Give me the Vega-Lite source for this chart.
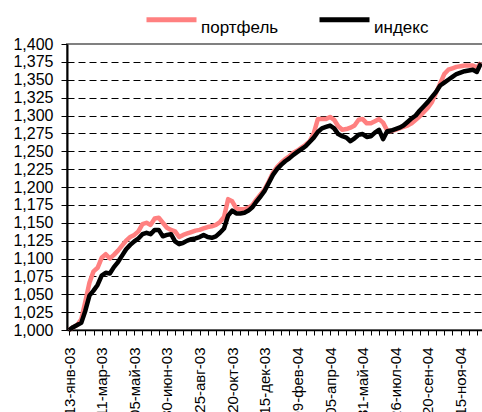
{
  "$schema": "https://vega.github.io/schema/vega-lite/v6.json",
  "width": 416,
  "height": 286,
  "autosize": "none",
  "padding": {"left": 67, "top": 44, "right": 0, "bottom": 82},
  "config": {"font": "Liberation Sans", "view": {"stroke": "#808080", "strokeWidth": 2}},
  "data": {"values": [
    {"d": "13-янв-03", "p": 1000, "i": 1000},
    {"d": "20-янв-03", "p": 1004, "i": 1004},
    {"d": "27-янв-03", "p": 1007, "i": 1007},
    {"d": "03-фев-03", "p": 1015, "i": 1010},
    {"d": "10-фев-03", "p": 1040, "i": 1027},
    {"d": "17-фев-03", "p": 1066, "i": 1048},
    {"d": "24-фев-03", "p": 1082, "i": 1055},
    {"d": "03-мар-03", "p": 1087, "i": 1063},
    {"d": "11-мар-03", "p": 1101, "i": 1076},
    {"d": "17-мар-03", "p": 1106, "i": 1080},
    {"d": "24-мар-03", "p": 1100, "i": 1079},
    {"d": "31-мар-03", "p": 1105, "i": 1088},
    {"d": "07-апр-03", "p": 1111, "i": 1095},
    {"d": "14-апр-03", "p": 1118, "i": 1104},
    {"d": "21-апр-03", "p": 1125, "i": 1113},
    {"d": "28-апр-03", "p": 1130, "i": 1119},
    {"d": "05-май-03", "p": 1133, "i": 1124},
    {"d": "12-май-03", "p": 1138, "i": 1128},
    {"d": "19-май-03", "p": 1148, "i": 1134},
    {"d": "26-май-03", "p": 1150, "i": 1136},
    {"d": "02-июн-03", "p": 1147, "i": 1134},
    {"d": "09-июн-03", "p": 1156, "i": 1140},
    {"d": "16-июн-03", "p": 1157, "i": 1140},
    {"d": "23-июн-03", "p": 1150, "i": 1131},
    {"d": "30-июн-03", "p": 1143, "i": 1133},
    {"d": "07-июл-03", "p": 1140, "i": 1134},
    {"d": "14-июл-03", "p": 1138, "i": 1124},
    {"d": "21-июл-03", "p": 1130, "i": 1120},
    {"d": "28-июл-03", "p": 1133, "i": 1122},
    {"d": "04-авг-03", "p": 1135, "i": 1125},
    {"d": "11-авг-03", "p": 1137, "i": 1127},
    {"d": "18-авг-03", "p": 1139, "i": 1128},
    {"d": "25-авг-03", "p": 1140, "i": 1130},
    {"d": "01-сен-03", "p": 1142, "i": 1133},
    {"d": "08-сен-03", "p": 1144, "i": 1130},
    {"d": "15-сен-03", "p": 1145, "i": 1129},
    {"d": "22-сен-03", "p": 1147, "i": 1131},
    {"d": "29-сен-03", "p": 1151, "i": 1136},
    {"d": "06-окт-03", "p": 1158, "i": 1142},
    {"d": "13-окт-03", "p": 1183, "i": 1160},
    {"d": "20-окт-03", "p": 1180, "i": 1167},
    {"d": "27-окт-03", "p": 1170, "i": 1163},
    {"d": "03-ноя-03", "p": 1169, "i": 1163},
    {"d": "10-ноя-03", "p": 1169, "i": 1164},
    {"d": "17-ноя-03", "p": 1171, "i": 1167},
    {"d": "24-ноя-03", "p": 1175, "i": 1172},
    {"d": "01-дек-03", "p": 1183, "i": 1180},
    {"d": "08-дек-03", "p": 1190, "i": 1187},
    {"d": "15-дек-03", "p": 1197, "i": 1195},
    {"d": "22-дек-03", "p": 1208, "i": 1206},
    {"d": "29-дек-03", "p": 1220, "i": 1217},
    {"d": "05-янв-04", "p": 1228, "i": 1225},
    {"d": "12-янв-04", "p": 1234, "i": 1231},
    {"d": "19-янв-04", "p": 1239, "i": 1236},
    {"d": "26-янв-04", "p": 1243, "i": 1240},
    {"d": "02-фев-04", "p": 1248, "i": 1245},
    {"d": "09-фев-04", "p": 1251, "i": 1249},
    {"d": "16-фев-04", "p": 1255, "i": 1253},
    {"d": "24-фев-04", "p": 1259, "i": 1257},
    {"d": "01-мар-04", "p": 1264, "i": 1263},
    {"d": "09-мар-04", "p": 1275, "i": 1269},
    {"d": "15-мар-04", "p": 1295, "i": 1277},
    {"d": "22-мар-04", "p": 1295, "i": 1282},
    {"d": "29-мар-04", "p": 1295, "i": 1284},
    {"d": "05-апр-04", "p": 1298, "i": 1286},
    {"d": "12-апр-04", "p": 1294, "i": 1282},
    {"d": "19-апр-04", "p": 1285, "i": 1274},
    {"d": "26-апр-04", "p": 1280, "i": 1271},
    {"d": "04-май-04", "p": 1281, "i": 1269},
    {"d": "11-май-04", "p": 1283, "i": 1264},
    {"d": "17-май-04", "p": 1286, "i": 1268},
    {"d": "24-май-04", "p": 1294, "i": 1273},
    {"d": "31-май-04", "p": 1295, "i": 1274},
    {"d": "07-июн-04", "p": 1289, "i": 1270},
    {"d": "15-июн-04", "p": 1289, "i": 1271},
    {"d": "21-июн-04", "p": 1292, "i": 1276},
    {"d": "28-июн-04", "p": 1295, "i": 1280},
    {"d": "05-июл-04", "p": 1290, "i": 1267},
    {"d": "12-июл-04", "p": 1279, "i": 1278},
    {"d": "19-июл-04", "p": 1278, "i": 1279},
    {"d": "26-июл-04", "p": 1280, "i": 1281},
    {"d": "02-авг-04", "p": 1282, "i": 1283},
    {"d": "09-авг-04", "p": 1284, "i": 1286},
    {"d": "16-авг-04", "p": 1286, "i": 1291},
    {"d": "23-авг-04", "p": 1289, "i": 1296},
    {"d": "30-авг-04", "p": 1294, "i": 1300},
    {"d": "06-сен-04", "p": 1299, "i": 1307},
    {"d": "13-сен-04", "p": 1305, "i": 1313},
    {"d": "20-сен-04", "p": 1311, "i": 1319},
    {"d": "27-сен-04", "p": 1319, "i": 1326},
    {"d": "04-окт-04", "p": 1332, "i": 1333},
    {"d": "11-окт-04", "p": 1345, "i": 1342},
    {"d": "18-окт-04", "p": 1358, "i": 1346},
    {"d": "25-окт-04", "p": 1364, "i": 1350},
    {"d": "01-ноя-04", "p": 1366, "i": 1354},
    {"d": "09-ноя-04", "p": 1368, "i": 1358},
    {"d": "15-ноя-04", "p": 1369, "i": 1360},
    {"d": "22-ноя-04", "p": 1370, "i": 1362},
    {"d": "29-ноя-04", "p": 1370, "i": 1363},
    {"d": "06-дек-04", "p": 1370, "i": 1364},
    {"d": "13-дек-04", "p": 1367, "i": 1361},
    {"d": "20-дек-04", "p": 1374, "i": 1373}
  ]},
  "transform": [{"fold": ["p", "i"], "as": ["key", "value"]}],
  "encoding": {
    "x": {
      "field": "d", "type": "ordinal", "sort": null,
      "scale": {"type": "point", "padding": 0.5},
      "axis": {
        "title": null,
        "values": ["13-янв-03","27-янв-03","10-фев-03","24-фев-03","11-мар-03","24-мар-03","07-апр-03","21-апр-03","05-май-03","19-май-03","02-июн-03","16-июн-03","30-июн-03","14-июл-03","28-июл-03","11-авг-03","25-авг-03","08-сен-03","22-сен-03","06-окт-03","20-окт-03","03-ноя-03","17-ноя-03","01-дек-03","15-дек-03","29-дек-03","12-янв-04","26-янв-04","09-фев-04","24-фев-04","09-мар-04","22-мар-04","05-апр-04","19-апр-04","04-май-04","17-май-04","31-май-04","15-июн-04","28-июн-04","12-июл-04","26-июл-04","09-авг-04","23-авг-04","06-сен-04","20-сен-04","04-окт-04","18-окт-04","01-ноя-04","15-ноя-04","29-ноя-04","13-дек-04"],
        "labelExpr": "indexof(['13-янв-03','11-мар-03','05-май-03','30-июн-03','25-авг-03','20-окт-03','15-дек-03','09-фев-04','05-апр-04','31-май-04','26-июл-04','20-сен-04','15-ноя-04'], datum.value) >= 0 ? datum.value : ''",
        "labelAngle": 270,
        "labelFontSize": 15,
        "labelColor": "#000000",
        "labelPadding": 12,
        "labelOverlap": false,
        "domainColor": "#000000",
        "domainWidth": 1.5,
        "tickColor": "#000000",
        "tickSize": 5,
        "grid": false
      }
    },
    "y": {
      "field": "value", "type": "quantitative",
      "scale": {"domain": [1000, 1400], "nice": false, "zero": false},
      "axis": {
        "title": null,
        "values": [1000,1025,1050,1075,1100,1125,1150,1175,1200,1225,1250,1275,1300,1325,1350,1375,1400],
        "format": ",d",
        "labelOverlap": false,
        "grid": true,
        "gridColor": "#000000",
        "gridDash": [7, 4],
        "gridWidth": 1,
        "gridOpacity": {"condition": {"test": "datum.value >= 1400 || datum.value <= 1000", "value": 0}, "value": 1},
        "domainColor": "#000000",
        "domainWidth": 2,
        "tickColor": "#000000",
        "tickSize": 6,
        "labelFontSize": 16,
        "labelColor": "#000000",
        "labelPadding": 8
      }
    },
    "color": {
      "field": "key", "type": "nominal",
      "scale": {"domain": ["p", "i"], "range": ["#FF8080", "#000000"]},
      "legend": {
        "orient": "none", "legendX": 77, "legendY": -52,
        "direction": "horizontal", "title": null,
        "labelExpr": "datum.value == 'p' ? 'портфель' : 'индекс'",
        "symbolType": "stroke", "symbolSize": 2500, "symbolStrokeWidth": 5,
        "labelFontSize": 17, "labelColor": "#000000", "labelOffset": 2,
        "labelBaseline": "top",
        "columnPadding": 30, "padding": 0
      }
    }
  },
  "layer": [
    {
      "transform": [{"filter": "datum.key == 'p'"}],
      "mark": {"type": "line", "strokeWidth": 4.5, "strokeJoin": "round"}
    },
    {
      "transform": [{"filter": "datum.key == 'i'"}],
      "mark": {"type": "line", "strokeWidth": 4.5, "strokeJoin": "round"}
    }
  ]
}
